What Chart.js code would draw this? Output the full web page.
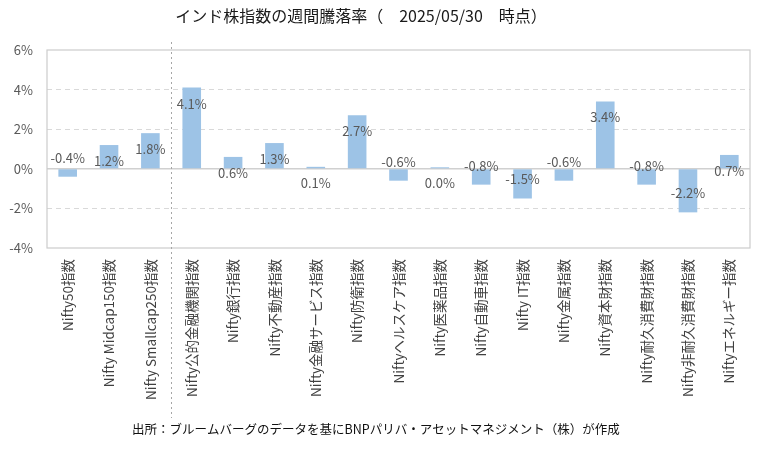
<!DOCTYPE html>
<html>
<head>
<meta charset="utf-8">
<script src="https://cdn.jsdelivr.net/npm/chart.js@4.4.1/dist/chart.umd.min.js"></script>
<style>
  html, body { margin: 0; padding: 0; background: #fff; }
  #wrap { width: 770px; height: 451px; position: relative; }
</style>
</head>
<body>
<div id="wrap"><canvas id="weeklyChart"></canvas></div>
<script>
// chart data
const categories = [
  'Nifty50指数', 'Nifty Midcap150指数', 'Nifty Smallcap250指数',
  'Nifty公的金融機関指数', 'Nifty銀行指数', 'Nifty不動産指数',
  'Nifty金融サービス指数', 'Nifty防衛指数', 'Niftyヘルスケア指数',
  'Nifty医薬品指数', 'Nifty自動車指数', 'Nifty IT指数', 'Nifty金属指数',
  'Nifty資本財指数', 'Nifty耐久消費財指数', 'Nifty非耐久消費財指数',
  'Niftyエネルギー指数'
];
const weeklyReturns = [-0.4, 1.2, 1.8, 4.1, 0.6, 1.3, 0.1, 2.7, -0.6, 0.03, -0.8, -1.5, -0.6, 3.4, -0.8, -2.2, 0.7];
const yTicks = [-4, -2, 0, 2, 4, 6];
const titleText = 'インド株指数の週間騰落率（　2025/05/30　時点）';
const sourceText = '出所：ブルームバーグのデータを基にBNPパリバ・アセットマネジメント（株）が作成';

const JP = '"Noto Sans CJK JP", "Noto Sans", sans-serif';

// frame, zero line, divider, labels, title and source note
const decorPlugin = {
  id: 'decor',
  beforeDatasetsDraw(chart) {
    const { ctx, chartArea: a, scales } = chart;
    const y0 = scales.y.getPixelForValue(0);
    ctx.save();
    ctx.strokeStyle = '#d0d0d0';
    ctx.lineWidth = 1.5;
    ctx.beginPath();
    ctx.moveTo(a.left, y0);
    ctx.lineTo(a.right, y0);
    ctx.stroke();
    ctx.strokeStyle = '#cccccc';
    ctx.lineWidth = 1.2;
    ctx.strokeRect(a.left, a.top, a.right - a.left, a.bottom - a.top);
    ctx.restore();
  },
  afterDatasetsDraw(chart) {
    const { ctx, scales } = chart;
    const x = scales.x;
    const meta = chart.getDatasetMeta(0);

    // divider between broad indices and sector indices
    const dx = Math.round((x.getPixelForTick(2) + x.getPixelForTick(3)) / 2) + 0.5;
    ctx.save();
    ctx.strokeStyle = '#a6a6a6';
    ctx.lineWidth = 1;
    ctx.setLineDash([2, 3]);
    ctx.beginPath();
    ctx.moveTo(dx, 42);
    ctx.lineTo(dx, 418);
    ctx.stroke();
    ctx.restore();

    // value labels
    ctx.save();
    ctx.font = '13px ' + JP;
    ctx.fillStyle = '#595959';
    ctx.textAlign = 'center';
    ctx.textBaseline = 'middle';
    meta.data.forEach((bar, i) => {
      const v = weeklyReturns[i];
      const ly = v >= 0 ? bar.y + 16 : bar.y - 19;
      ctx.fillText(v.toFixed(1) + '%', bar.x, ly);
    });
    ctx.restore();

    // title
    ctx.save();
    ctx.font = '16px ' + JP;
    ctx.fillStyle = '#1a1a1a';
    ctx.textAlign = 'center';
    ctx.textBaseline = 'middle';
    ctx.fillText(titleText, 361, 16);
    // source note
    ctx.font = '12.5px ' + JP;
    ctx.fillStyle = '#111';
    ctx.textAlign = 'left';
    ctx.fillText(sourceText, 132, 429);
    ctx.restore();
  }
};

const chart = new Chart(document.getElementById('weeklyChart'), {
  type: 'bar',
  data: {
    labels: categories,
    datasets: [{
      data: weeklyReturns,
      backgroundColor: '#9dc3e6',
      barPercentage: 0.45,
      categoryPercentage: 1.0,
      minBarLength: 1.5
    }]
  },
  options: {
    responsive: true,
    maintainAspectRatio: false,
    animation: false,
    layout: { padding: { left: 0, right: 20, top: 50, bottom: 0 } },
    plugins: {
      legend: { display: false },
      tooltip: { enabled: false }
    },
    scales: {
      x: {
        grid: { display: false },
        border: { display: false },
        ticks: {
          minRotation: 90,
          maxRotation: 90,
          autoSkip: false,
          padding: 3,
          color: '#404040',
          font: { family: JP, size: 13.5 }
        },
        afterFit(scale) { scale.height = 203; }
      },
      y: {
        min: -4,
        max: 6,
        afterBuildTicks(scale) { scale.ticks = yTicks.map(v => ({ value: v })); },
        grid: {
          color: (c) => (c.tick && (c.tick.value === 0 || c.tick.value === 6 || c.tick.value === -4)) ? 'rgba(0,0,0,0)' : '#d9d9d9',
          lineWidth: 1,
          drawTicks: false
        },
        border: { display: false, dash: [5, 4] },
        ticks: {
          padding: 14,
          color: '#595959',
          font: { family: JP, size: 13 },
          callback: (v) => v + '%'
        },
        afterFit(scale) { scale.width = 47; }
      }
    }
  },
  plugins: [decorPlugin]
});
</script>
</body>
</html>
